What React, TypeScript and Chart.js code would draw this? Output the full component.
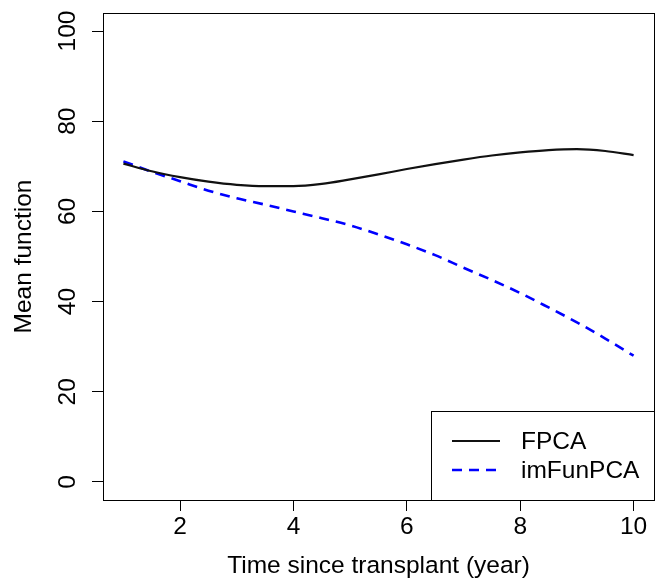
import React, { useEffect, useRef } from "react";
import { Chart, registerables } from "chart.js";

Chart.register(...registerables);

// ---- data ----
const xValues = [1, 1.5, 2, 2.5, 3, 3.5, 4, 4.5, 5, 5.5, 6, 6.5, 7, 7.5, 8, 8.5, 9, 9.5, 10];
const fpcaValues = [70.6, 68.9, 67.6, 66.6, 65.9, 65.6, 65.6, 66.1, 67.1, 68.2, 69.4, 70.5, 71.5, 72.4, 73.1, 73.6, 73.8, 73.4, 72.5];
const imFunPcaValues = [71.1, 68.8, 66.7, 64.6, 62.9, 61.5, 60.0, 58.5, 56.9, 54.9, 52.7, 50.3, 47.5, 44.8, 41.9, 38.7, 35.4, 31.8, 28.0];
const seriesLabels = ["FPCA", "imFunPCA"];
const xTickValues = [2, 4, 6, 8, 10];
const yTickValues = [0, 20, 40, 60, 80, 100];
const xTitle = "Time since transplant (year)";
const yTitle = "Mean function";

const FONT = "'Liberation Sans', Arial, Helvetica, sans-serif";
const FS = 24.5;

const overlayPlugin = {
  id: "rOverlay",
  afterDraw(chart: any) {
    const { ctx, chartArea: a, scales } = chart;
    ctx.save();
    // frame
    ctx.strokeStyle = "#000";
    ctx.lineWidth = 1;
    ctx.setLineDash([]);
    ctx.strokeRect(Math.round(a.left) + 0.5, Math.round(a.top) + 0.5, Math.round(a.right - a.left), Math.round(a.bottom - a.top));

    // y tick labels (rotated, R style)
    const ys = scales.y;
    ctx.font = `${FS}px ${FONT}`;
    ctx.fillStyle = "#000";
    ctx.textAlign = "center";
    ctx.textBaseline = "middle";
    yTickValues.forEach((v) => {
      const py = ys.getPixelForValue(v);
      ctx.save();
      ctx.translate(68, py);
      ctx.rotate(-Math.PI / 2);
      ctx.fillText(String(v), 0, 0);
      ctx.restore();
    });

    // legend box
    const bw = 223;
    const bh = 89;
    const bx = Math.round(a.right - bw);
    const by = Math.round(a.bottom - bh);
    ctx.fillStyle = "#fff";
    ctx.fillRect(bx, by, bw, bh);
    ctx.strokeStyle = "#000";
    ctx.lineWidth = 1;
    ctx.strokeRect(bx + 0.5, by + 0.5, bw, bh);
    const ds = chart.data.datasets;
    const rows = [by + 30, by + 59];
    ds.forEach((d: any, i: number) => {
      ctx.save();
      ctx.strokeStyle = d.borderColor;
      ctx.lineWidth = d.borderWidth;
      ctx.setLineDash(d.borderDash || []);
      ctx.beginPath();
      ctx.moveTo(bx + 21, rows[i]);
      ctx.lineTo(bx + 69, rows[i]);
      ctx.stroke();
      ctx.restore();
      ctx.fillStyle = "#000";
      ctx.textAlign = "left";
      ctx.textBaseline = "middle";
      ctx.fillText(d.label, bx + 90, rows[i] + 1);
    });
    ctx.restore();
  },
};

export default function App() {
  const ref = useRef<HTMLCanvasElement | null>(null);

  useEffect(() => {
    if (!ref.current) return;
    const chart = new Chart(ref.current, {
      type: "line",
      data: {
        datasets: [
          {
            label: seriesLabels[0],
            data: xValues.map((x, i) => ({ x, y: fpcaValues[i] })),
            borderColor: "#111",
            borderWidth: 2.2,
            pointRadius: 0,
            cubicInterpolationMode: "monotone",
            fill: false,
          },
          {
            label: seriesLabels[1],
            data: xValues.map((x, i) => ({ x, y: imFunPcaValues[i] })),
            borderColor: "#0000ff",
            borderWidth: 2.6,
            borderDash: [10, 7],
            pointRadius: 0,
            cubicInterpolationMode: "monotone",
            fill: false,
          },
        ],
      },
      options: {
        responsive: false,
        animation: false,
        devicePixelRatio: 1,
        layout: { padding: { top: 13, right: 4, left: 0, bottom: 0 } },
        plugins: { legend: { display: false }, tooltip: { enabled: false } },
        scales: {
          x: {
            type: "linear",
            min: 0.64,
            max: 10.36,
            afterBuildTicks: (s: any) => {
              s.ticks = xTickValues.map((v) => ({ value: v }));
            },
            afterFit: (s: any) => {
              s.height = 87;
            },
            border: { display: false },
            grid: { display: true, drawOnChartArea: false, drawTicks: true, tickLength: 11, color: "#000", lineWidth: 1 },
            ticks: {
              color: "#000",
              font: { family: FONT, size: FS },
              padding: 2,
              maxRotation: 0,
              autoSkip: false,
              callback: (v: any) => String(v),
            },
            title: {
              display: true,
              text: xTitle,
              color: "#000",
              font: { family: FONT, size: FS },
              padding: { top: 0, bottom: 6 },
            },
          },
          y: {
            type: "linear",
            min: -4,
            max: 104,
            afterBuildTicks: (s: any) => {
              s.ticks = yTickValues.map((v) => ({ value: v }));
            },
            afterFit: (s: any) => {
              s.width = 103;
            },
            border: { display: false },
            grid: { display: true, drawOnChartArea: false, drawTicks: true, tickLength: 11, color: "#000", lineWidth: 1 },
            ticks: { display: false },
            title: {
              display: true,
              text: yTitle,
              color: "#000",
              font: { family: FONT, size: FS },
              padding: { top: 10, bottom: 0 },
            },
          },
        },
      },
      plugins: [overlayPlugin],
    } as any);
    return () => chart.destroy();
  }, []);

  return (
    <div style={{ position: "fixed", left: 0, top: 0, width: 658, height: 587, background: "#fff" }}>
      <canvas ref={ref} width={658} height={587} style={{ display: "block", width: 658, height: 587 }} />
    </div>
  );
}
